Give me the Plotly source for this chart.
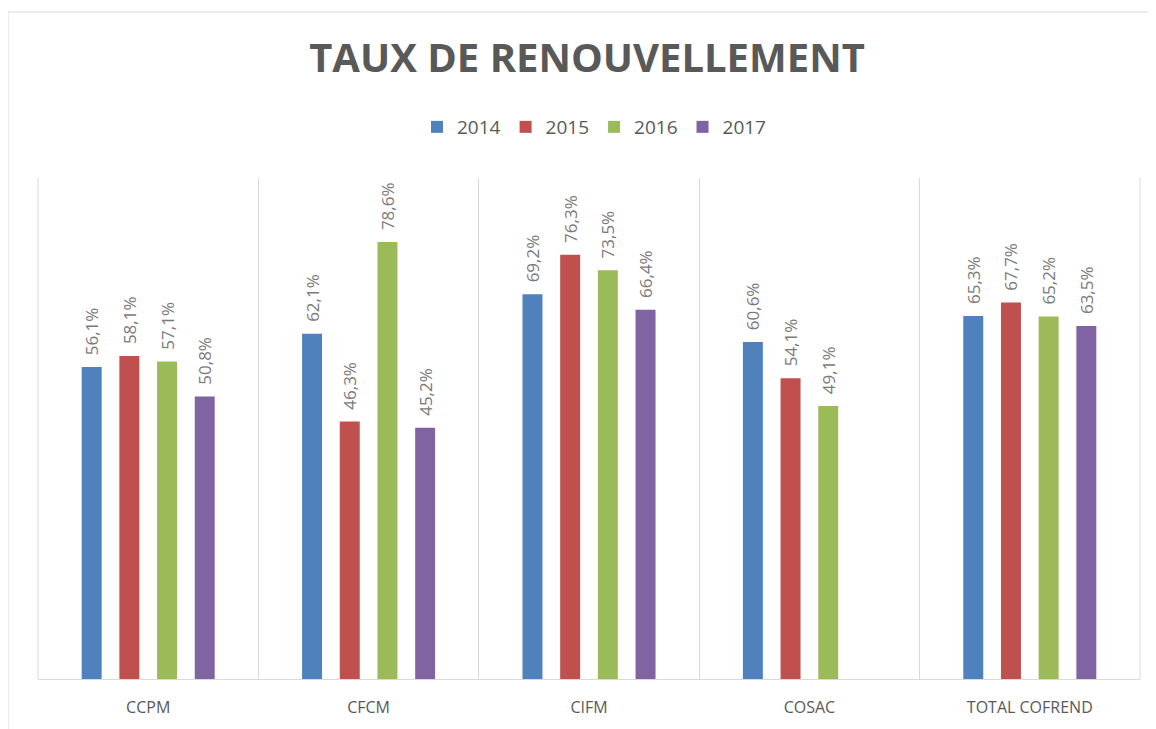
import plotly.graph_objects as go

categories = ["CCPM", "CFCM", "CIFM", "COSAC", "TOTAL COFREND"]
years = ["2014", "2015", "2016", "2017"]
v2014 = [56.1, 62.1, 69.2, 60.6, 65.3]
v2015 = [58.1, 46.3, 76.3, 54.1, 67.7]
v2016 = [57.1, 78.6, 73.5, 49.1, 65.2]
v2017 = [50.8, 45.2, 66.4, None, 63.5]
colors = ["#4F81BD", "#C0504D", "#9BBB59", "#8064A2"]

series = [v2014, v2015, v2016, v2017]

def fmt(v):
    return "" if v is None else "\u00a0\u00a0" + f"{v:.1f}%".replace(".", ",")

fig = go.Figure()
for name, vals, col in zip(years, series, colors):
    fig.add_trace(go.Bar(
        x=categories,
        y=[None if v is None else v / 100 for v in vals],
        name=name,
        marker=dict(color=col, line=dict(width=0)),
        text=[fmt(v) for v in vals],
        textposition="outside",
        textangle=-90,
        constraintext="none",
        cliponaxis=False,
        textfont=dict(family="Open Sans", size=17, color="#7a7a7a"),
        hoverinfo="skip",
    ))

# page has an 8px body margin, so figure coordinates = page pixels - 8
OFF = 8
W, H = 1156 - OFF, 729 - OFF
PL, PR, PT, PB = 38, 1140, 178, 679          # plot area in page pixels
L, T = PL - OFF, PT - OFF
R, B = W - (PR - OFF), H - (PB - OFF)
pw = W - L - R
ph = H - T - B

def px_x(x):
    return (x - PL) / pw

def px_y(y):
    return (PB - y) / ph

fig.update_layout(
    width=W, height=H,
    margin=dict(l=L, r=R, t=T, b=B),
    paper_bgcolor="white",
    plot_bgcolor="white",
    barmode="group",
    bargap=0.316,
    bargroupgap=0.47,
    title=dict(
        text="<b>TAUX DE RENOUVELLEMENT</b>",
        font=dict(family="Open Sans", size=40, color="#595959"),
        x=(587 - OFF) / W, xanchor="center", xref="container",
        y=1 - (58 - OFF) / H, yanchor="middle", yref="container",
    ),
    legend=dict(
        orientation="h",
        x=px_x(594), xanchor="center",
        y=px_y(127), yanchor="middle",
        font=dict(family="Open Sans", size=19, color="#595959"),
        itemwidth=30,
        traceorder="normal",
    ),
    xaxis=dict(
        type="category",
        tickson="boundaries",
        showgrid=True,
        gridcolor="#d9d9d9",
        gridwidth=1,
        showline=True,
        linecolor="#d9d9d9",
        linewidth=1,
        ticks="",
        ticklabelstandoff=14,
        tickfont=dict(family="Open Sans", size=16, color="#595959"),
        range=[-0.5, 4.5],
    ),
    yaxis=dict(
        range=[0, 0.901],
        showgrid=False,
        showticklabels=False,
        zeroline=False,
        showline=False,
        ticks="",
    ),
    showlegend=True,
)

# plot-area edge lines and outer chart border
fig.add_shape(type="line", xref="paper", yref="paper", x0=0, x1=0, y0=0, y1=1,
              line=dict(color="#d9d9d9", width=1))
fig.add_shape(type="line", xref="paper", yref="paper", x0=1, x1=1, y0=0, y1=1,
              line=dict(color="#d9d9d9", width=1))
fig.add_shape(type="line", xref="paper", yref="paper",
              x0=px_x(8), x1=px_x(1160), y0=px_y(12), y1=px_y(12),
              line=dict(color="#d9d9d9", width=1))
fig.add_shape(type="line", xref="paper", yref="paper",
              x0=px_x(8), x1=px_x(8), y0=px_y(12), y1=px_y(735),
              line=dict(color="#d9d9d9", width=1))

fig.write_html("out.html")
